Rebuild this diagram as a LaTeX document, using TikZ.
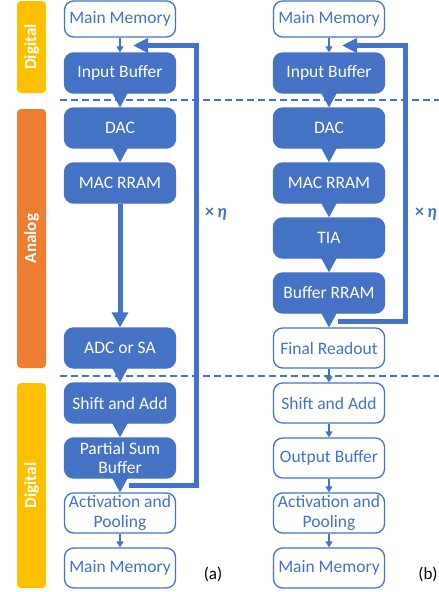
\documentclass[tikz,border=0pt]{standalone}
\usepackage{fontspec}
\setmainfont{Carlito}
\usetikzlibrary{arrows.meta,calc}
\definecolor{blu}{HTML}{4472C4}
\definecolor{ylw}{HTML}{FFC000}
\definecolor{org}{HTML}{ED7D31}
\begin{document}
\begin{tikzpicture}[x=1pt,y=-1pt,
  box/.style={rectangle, rounded corners=9pt, minimum width=111pt, minimum height=40pt,
    inner sep=0pt, align=center, font=\fontsize{17.5}{19.5}\selectfont, line width=1.3pt, draw=blu},
  fbox/.style={box, fill=blu, text=white},
  wbox/.style={box, fill=white, text=blu},
  bar/.style={rectangle, rounded corners=4pt, minimum width=29pt, inner sep=0pt,
    text=white, font=\fontsize{17}{19}\selectfont\bfseries},
  thinarrow/.style={draw=blu, line width=1.5pt, -{Triangle[length=6pt,width=7pt]}},
  thickarrow/.style={draw=blu, line width=5pt, -{Triangle[length=15pt,width=16pt]}},
  looparrow/.style={draw=blu, line width=5pt, -{Triangle[length=15pt,width=14pt]}},
  dashline/.style={draw=blu, line width=1.3pt, dash pattern=on 7pt off 4pt},
  lbl/.style={text=blu, font=\fontsize{18}{20}\selectfont\bfseries},
  captxt/.style={text=black, font=\fontsize{17}{19}\selectfont}]
\useasboundingbox (0,0) rectangle (439,592);

% side bars
\node[bar, fill=ylw, minimum height=92pt] (d1) at (31.5,47) {\rotatebox{90}{Digital}};
\node[bar, fill=org, minimum height=259pt] (an) at (31.5,238.5) {\rotatebox{90}{Analog}};
\node[bar, fill=ylw, minimum height=205pt] (d2) at (31.5,485.5) {\rotatebox{90}{Digital}};

% dashed separators
\draw[dashline] (60,100) -- (439,100);
\draw[dashline] (60,376) -- (439,376);

% column (a)
\node[wbox, minimum height=36pt] (amm1) at (120,19) {Main Memory};
\node[fbox] (aib) at (120,73) {Input Buffer};
\node[fbox] (adac) at (120,128) {DAC};
\node[fbox] (amac) at (120,183) {MAC RRAM};
\node[fbox] (aadc) at (120,348) {ADC or SA};
\node[fbox] (asa) at (120,403) {Shift and Add};
\node[fbox] (apsb) at (120,458) {Partial Sum\\Buffer};
\node[wbox] (aact) at (120,513) {Activation and\\Pooling};
\node[wbox] (amm2) at (120,568) {Main Memory};

% column (b)
\node[wbox, minimum height=36pt] (bmm1) at (329,19) {Main Memory};
\node[fbox] (bib) at (329,73) {Input Buffer};
\node[fbox] (bdac) at (329,128) {DAC};
\node[fbox] (bmac) at (329,183) {MAC RRAM};
\node[fbox] (btia) at (329,238) {TIA};
\node[fbox] (bbr) at (329,293) {Buffer RRAM};
\node[wbox] (bfr) at (329,348) {Final Readout};
\node[wbox] (bsa) at (329,403) {Shift and Add};
\node[wbox] (bob) at (329,458) {Output Buffer};
\node[wbox] (bact) at (329,513) {Activation and\\Pooling};
\node[wbox] (bmm2) at (329,568) {Main Memory};

% pointer triangles
\newcommand{\ptr}[2]{\fill[blu] ($(#1.south)+(-8,-1)$) -- ($(#1.south)+(8,-1)$) -- (#2.north) -- cycle;}
\ptr{aib}{adac}
\ptr{adac}{amac}
\ptr{aadc}{asa}
\ptr{asa}{apsb}
\ptr{apsb}{aact}
\ptr{bib}{bdac}
\ptr{bdac}{bmac}
\ptr{bmac}{btia}
\ptr{btia}{bbr}
\ptr{bbr}{bfr}

% thin arrows
\draw[thinarrow] (amm1) -- (aib);
\draw[thinarrow] (aact) -- (amm2);
\draw[thinarrow] (bmm1) -- (bib);
\draw[thinarrow] (bfr) -- (bsa);
\draw[thinarrow] (bsa) -- (bob);
\draw[thinarrow] (bob) -- (bact);
\draw[thinarrow] (bact) -- (bmm2);

% thick arrow (a)
\draw[thickarrow] (amac) -- (aadc);

% loops
\coordinate (alS) at (129,485);
\coordinate (alC) at (196,45.5);
\coordinate (alE) at (133,45.5);
\draw[looparrow] (alS) -| (alC) -- (alE);
\coordinate (blS) at (338,321);
\coordinate (blC) at (405.5,45.5);
\coordinate (blE) at (342,45.5);
\draw[looparrow] (blS) -| (blC) -- (blE);

% labels
\node[lbl] (ea) at (216,214) {×\,\textit{η}};
\node[lbl] (eb) at (426,214) {×\,\textit{η}};
\node[captxt] (ca) at (213,574) {(a)};
\node[captxt] (cb) at (428,574) {(b)};
\end{tikzpicture}
\end{document}
